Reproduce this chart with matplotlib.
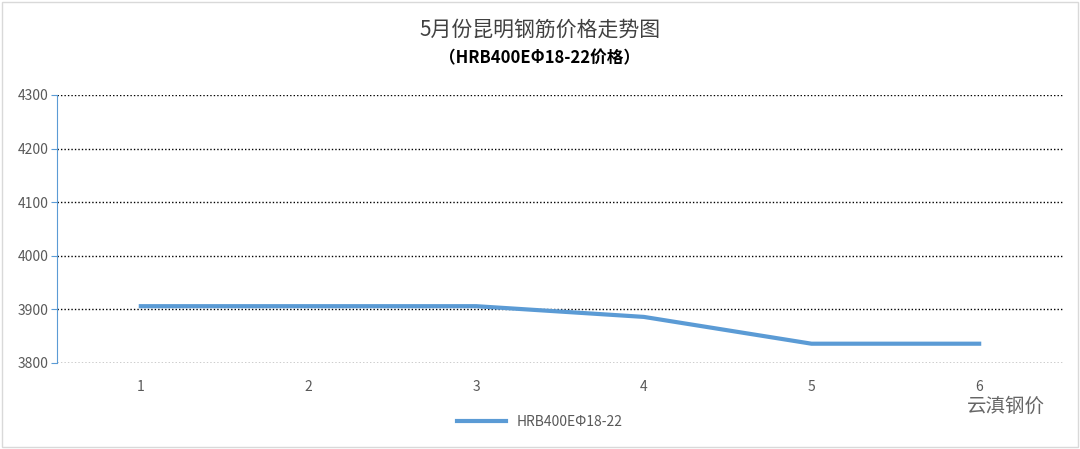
import matplotlib
matplotlib.use("Agg")
import matplotlib.pyplot as plt
from matplotlib.patches import Rectangle

plt.rcParams['font.family'] = ['Noto Sans CJK SC', 'DejaVu Sans']

days = [1, 2, 3, 4, 5, 6]
prices = [3906, 3906, 3906, 3886, 3836, 3836]
yticks = [3800, 3900, 4000, 4100, 4200, 4300]
series_name = "HRB400EΦ18-22"

fig = plt.figure(figsize=(10.8, 4.49), dpi=100)
fig.patches.append(Rectangle((0.002, 0.004), 0.996, 0.992, transform=fig.transFigure,
                             fill=False, edgecolor='#d9d9d9', linewidth=1))
ax = fig.add_axes([57/1080, 1-363/449, (1063-57)/1080, (363-95)/449])
ax.plot(days, prices, color='#5b9bd5', linewidth=3, label=series_name)
ax.set_xlim(0.5, 6.5)
ax.set_ylim(3800, 4300)
ax.set_yticks(yticks)
ax.set_xticks(days)
ax.yaxis.grid(True, linestyle=(0, (1, 1.5)), color='black', linewidth=1)
for s in ['top', 'right', 'bottom']:
    ax.spines[s].set_visible(False)
ax.spines['left'].set_color('#5b9bd5')
ax.tick_params(axis='y', length=4, color='#5b9bd5', labelsize=10, labelcolor='#595959', pad=2)
ax.tick_params(axis='x', length=0, labelsize=10, labelcolor='#595959', pad=12)

fig.text(0.5, 1-30/449, "5月份昆明钢筋价格走势图", ha='center', va='center', fontsize=15, color='#404040')
fig.text(0.5, 1-58/449, "（HRB400EΦ18-22价格）", ha='center', va='center', fontsize=12, color='#000000', fontweight='bold')
fig.legend(loc='center', bbox_to_anchor=(540/1080, 1-422/449), frameon=False, fontsize=10,
           labelcolor='#595959', handlelength=3.5)
fig.text(1045/1080, 1-406/449, "云滇钢价", ha='right', va='center', fontsize=14, color='#666666')

fig.savefig("out.png", dpi=100)
